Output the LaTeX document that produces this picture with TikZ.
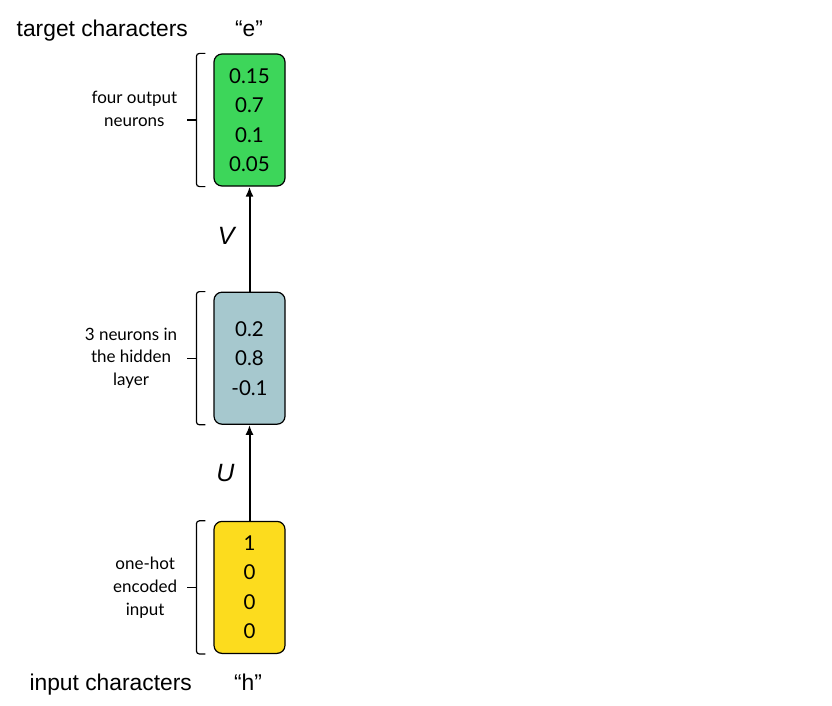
\documentclass[tikz,border=0pt]{standalone}
\usepackage{fontspec}
\setmainfont{Lato}
\newfontfamily\arialfont{Liberation Sans}
\usetikzlibrary{positioning,arrows.meta}
\definecolor{outgreen}{RGB}{61,214,90}
\definecolor{hidblue}{RGB}{166,200,206}
\definecolor{inyellow}{RGB}{252,220,30}

\begin{document}
\begin{tikzpicture}[x=1pt,y=-1pt,
  layer/.style={draw, line width=1.2pt, rounded corners=8pt, minimum width=71pt,
    minimum height=132pt, inner sep=0pt, align=center,
    font=\fontsize{20.5}{29.5}\selectfont},
  note/.style={align=center, inner sep=0pt, font=\fontsize{17}{22.8}\selectfont},
  title/.style={inner sep=0pt, font=\arialfont\fontsize{22.8}{26}\selectfont},
  weight/.style={inner sep=0pt, font=\arialfont\itshape\fontsize{25}{28}\selectfont},
  brace/.style={line width=1.2pt, rounded corners=3pt}]

\useasboundingbox (0,0) rectangle (832,706) ;

% the three layers
\node [layer, fill=outgreen] (out) at (249.5,120) {0.15\\0.7\\0.1\\0.05} ;
\node [layer, fill=hidblue, below=105pt of out] (hid) {0.2\\0.8\\-0.1} ;
\node [layer, fill=inyellow, below=96pt of hid] (inp) {1\\0\\0\\0} ;

% weights
\draw [line width=2pt, -{Latex[length=10pt,width=8pt]}] (hid) -- node [weight, left=14pt, yshift=3pt] {V} (out) ;
\draw [line width=2pt, -{Latex[length=10pt,width=8pt]}] (inp) -- node [weight, left=14pt] {U} (hid) ;

% brackets
\draw [brace] ([xshift=-8pt]out.north west) -| ([xshift=-17pt]out.south west) -- ([xshift=-8pt]out.south west) ;
\draw [brace] ([xshift=-17pt]out.west) -- ++(-9,0) coordinate (outtick) ;
\draw [brace] ([xshift=-8pt]hid.north west) -| ([xshift=-17pt]hid.south west) -- ([xshift=-8pt]hid.south west) ;
\draw [brace] ([xshift=-17pt]hid.west) -- ++(-9,0) coordinate (hidtick) ;
\draw [brace] ([xshift=-8pt]inp.north west) -| ([xshift=-17pt]inp.south west) -- ([xshift=-8pt]inp.south west) ;
\draw [brace] ([xshift=-17pt]inp.west) -- ++(-9,0) coordinate (inptick) ;

\node [note, left=10pt of outtick, yshift=11pt] (outnote) {four output\\neurons} ;
\node [note, left=10pt of hidtick] (hidnote) {3 neurons in\\the hidden\\layer} ;
\node [note, left=10pt of inptick] (inpnote) {one-hot\\encoded\\input} ;

% characters
\node [title, anchor=base] (echar) at (249,37) {“e”} ;
\node [title, anchor=base east] (tgt) at (188,37) {target characters} ;
\node [title, anchor=base] (hchar) at (248,690) {“h”} ;
\node [title, anchor=base east] (src) at (192,690) {input characters} ;
\end{tikzpicture}
\end{document}
